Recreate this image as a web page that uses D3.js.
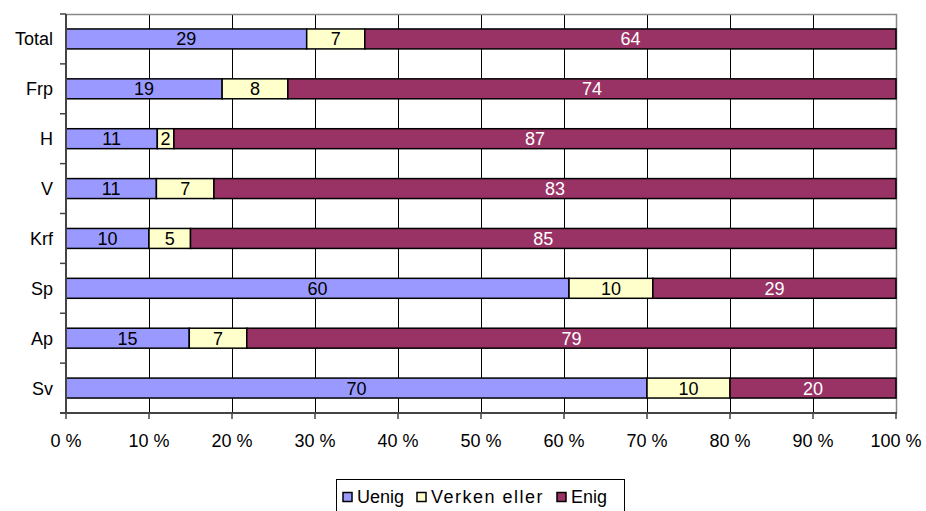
<!DOCTYPE html>
<html>
<head>
<meta charset="utf-8">
<script src="https://cdn.jsdelivr.net/npm/d3@7"></script>
<style>
  body { margin: 0; background: #fff; }
  text { font-family: "Liberation Sans", Arial, sans-serif; }
</style>
</head>
<body>
<div id="plot"></div>
<script>
var categories = ["Total", "Frp", "H", "V", "Krf", "Sp", "Ap", "Sv"];
var uenig = [29, 19, 11, 11, 10, 60, 15, 70];
var verken = [7, 8, 2, 7, 5, 10, 7, 10];
var enig = [64, 74, 87, 83, 85, 29, 79, 20];
var seriesNames = ["Uenig", "Verken eller", "Enig"];
var seriesColors = ["#9999ff", "#ffffcc", "#993366"];
var labelColors = ["#000", "#000", "#fff"];
var xTicks = [0, 0.1, 0.2, 0.3, 0.4, 0.5, 0.6, 0.7, 0.8, 0.9, 1];

var width = 926, height = 511;
var margin = {top: 14, right: 30, bottom: 98, left: 66};

var svg = d3.select("#plot").append("svg")
  .attr("width", width)
  .attr("height", height);

var x = d3.scaleLinear().domain([0, 1]).range([margin.left, width - margin.right]);
var y = d3.scaleBand().domain(categories).range([margin.top, height - margin.bottom]).paddingInner(0.6).paddingOuter(0.3);

// rows normalised to 100 %
var rows = categories.map(function(c, i) {
  var vals = [uenig[i], verken[i], enig[i]];
  var tot = d3.sum(vals);
  var acc = 0;
  return vals.map(function(v, k) {
    var seg = {cat: c, k: k, v: v, x0: acc / tot, x1: (acc + v) / tot};
    acc += v;
    return seg;
  });
});

var yb = height - margin.bottom;

// gridlines
svg.selectAll(".grid")
  .data(xTicks.slice(1, -1))
  .enter().append("line")
  .attr("x1", function(d) { return Math.round(x(d)) + 0.5; })
  .attr("x2", function(d) { return Math.round(x(d)) + 0.5; })
  .attr("y1", margin.top)
  .attr("y2", yb)
  .attr("stroke", "#000")
  .attr("stroke-width", 1);

// plot border top / right
svg.append("path")
  .attr("d", "M" + x(0) + "," + (margin.top + 0.5) + "H" + (x(1) + 0.5) + "V" + yb)
  .attr("fill", "none")
  .attr("stroke", "#888")
  .attr("stroke-width", 1.5);

// bars
var segs = svg.selectAll(".seg")
  .data(d3.merge(rows))
  .enter().append("g");

segs.append("rect")
  .attr("x", function(d) { return x(d.x0); })
  .attr("y", function(d) { return y(d.cat); })
  .attr("width", function(d) { return x(d.x1) - x(d.x0); })
  .attr("height", y.bandwidth())
  .attr("fill", function(d) { return seriesColors[d.k]; })
  .attr("stroke", "#000")
  .attr("stroke-width", 1.5);

segs.append("text")
  .attr("x", function(d) { return (x(d.x0) + x(d.x1)) / 2; })
  .attr("y", function(d) { return y(d.cat) + y.bandwidth() / 2; })
  .attr("dy", "0.36em")
  .attr("text-anchor", "middle")
  .style("font-size", "18px")
  .attr("fill", function(d) { return labelColors[d.k]; })
  .text(function(d) { return d.v; });

// left axis
var yAxis = svg.append("g");
yAxis.append("line")
  .attr("x1", x(0)).attr("x2", x(0))
  .attr("y1", margin.top).attr("y2", yb)
  .attr("stroke", "#444").attr("stroke-width", 2);
yAxis.selectAll(".ytick")
  .data(d3.range(categories.length + 1))
  .enter().append("line")
  .attr("x1", x(0) - 6).attr("x2", x(0))
  .attr("y1", function(i) { return margin.top + i * y.step(); })
  .attr("y2", function(i) { return margin.top + i * y.step(); })
  .attr("stroke", "#444").attr("stroke-width", 1.5);
yAxis.selectAll(".ylab")
  .data(categories)
  .enter().append("text")
  .attr("x", x(0) - 13)
  .attr("y", function(d) { return y(d) + y.bandwidth() / 2; })
  .attr("dy", "0.36em")
  .attr("text-anchor", "end")
  .style("font-size", "18px")
  .text(function(d) { return d; });

// bottom axis
var xAxis = svg.append("g");
xAxis.append("line")
  .attr("x1", x(0) - 6).attr("x2", x(1) + 1)
  .attr("y1", yb).attr("y2", yb)
  .attr("stroke", "#444").attr("stroke-width", 2);
xAxis.selectAll(".xtick")
  .data(xTicks)
  .enter().append("line")
  .attr("x1", function(d) { return x(d); })
  .attr("x2", function(d) { return x(d); })
  .attr("y1", yb).attr("y2", yb + 6)
  .attr("stroke", "#444").attr("stroke-width", 1.5);
xAxis.selectAll(".xlab")
  .data(xTicks)
  .enter().append("text")
  .attr("x", function(d) { return x(d); })
  .attr("y", yb + 28)
  .attr("dy", "0.36em")
  .attr("text-anchor", "middle")
  .style("font-size", "18px")
  .text(function(d) { return Math.round(d * 100) + " %"; });

// legend
var legend = svg.append("g");
legend.append("rect")
  .attr("x", 336.5).attr("y", 479.5)
  .attr("width", 288).attr("height", 40)
  .attr("fill", "#fff").attr("stroke", "#000");
var legX = [343, 417, 557];
var items = legend.selectAll(".leg")
  .data(seriesNames)
  .enter().append("g")
  .attr("transform", function(d, i) { return "translate(" + legX[i] + ",497)"; });
items.append("rect")
  .attr("x", 0).attr("y", -4.5)
  .attr("width", 9).attr("height", 9)
  .attr("fill", function(d, i) { return seriesColors[i]; })
  .attr("stroke", "#000").attr("stroke-width", 1.5);
items.append("text")
  .attr("x", 14)
  .attr("y", 0)
  .attr("dy", "0.36em")
  .style("font-size", "18px")
  .style("letter-spacing", function(d, i) { return i === 1 ? "1.5px" : "0px"; })
  .text(function(d) { return d; });
</script>
</body>
</html>
